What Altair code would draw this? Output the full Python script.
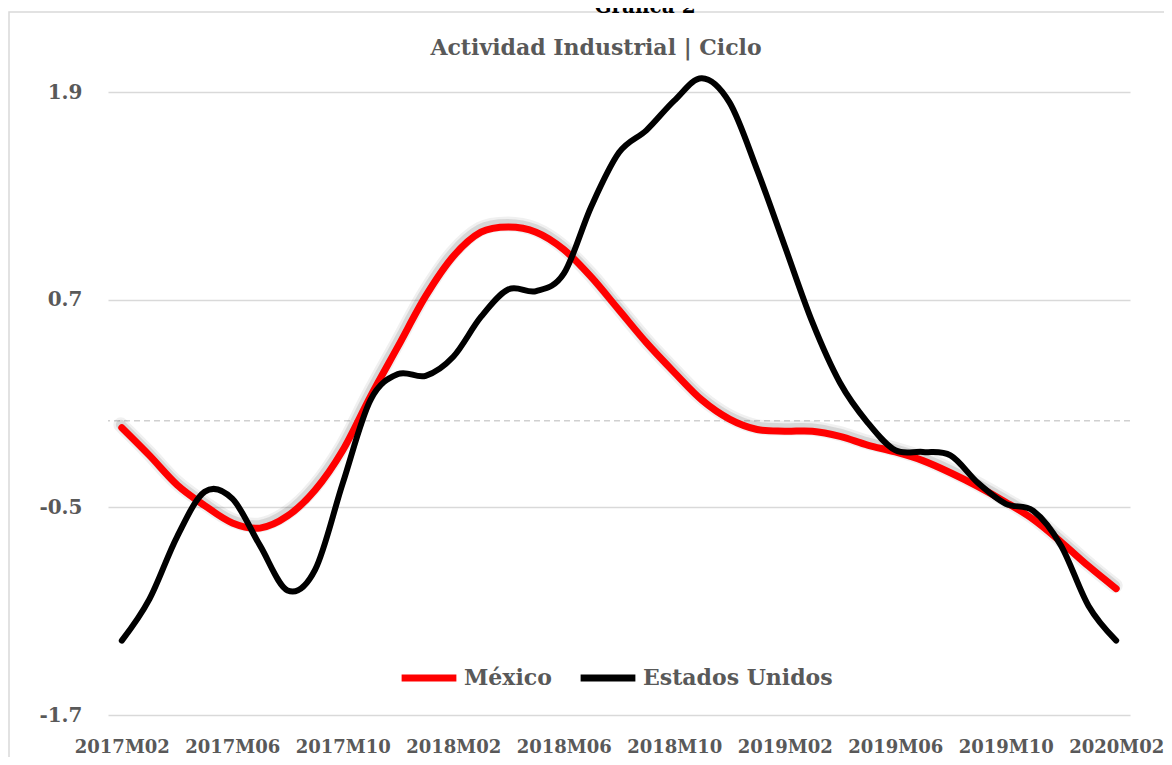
import altair as alt
import pandas as pd

# category labels (monthly, 2017M02 .. 2020M02)
months = [f"{2017 + (m - 1) // 12}M{(m - 1) % 12 + 1:02d}" for m in range(2, 39)]
tick_labels = months[::4]
y_ticks = [-1.7, -0.5, 0.7, 1.9]

series_names = ["México", "Estados Unidos"]
series_colors = ["#ff0000", "#000000"]

mexico = [-0.04, -0.20, -0.37, -0.49, -0.59, -0.62, -0.55, -0.40, -0.17, 0.14,
          0.43, 0.72, 0.95, 1.09, 1.12, 1.09, 0.99, 0.83, 0.64, 0.45,
          0.28, 0.12, 0.01, -0.05, -0.06, -0.06, -0.09, -0.14, -0.18, -0.23,
          -0.30, -0.38, -0.47, -0.57, -0.70, -0.84, -0.97]
eeuu = [-1.27, -1.03, -0.67, -0.41, -0.45, -0.72, -0.98, -0.86, -0.36, 0.12,
        0.27, 0.26, 0.37, 0.60, 0.76, 0.75, 0.85, 1.24, 1.55, 1.68,
        1.85, 1.98, 1.84, 1.45, 1.01, 0.57, 0.22, -0.01, -0.17, -0.18,
        -0.20, -0.36, -0.48, -0.52, -0.72, -1.07, -1.27]

df = pd.DataFrame({
    "mes": months * 2,
    "valor": mexico + eeuu,
    "serie": [series_names[0]] * len(months) + [series_names[1]] * len(months),
})

FONT = "DejaVu Serif"
GRAY = "#595959"
W, H = 1022, 623
INTERP = "cardinal"

x_enc = alt.X("mes:O", sort=months,
              scale=alt.Scale(type="point", padding=0.5),
              axis=alt.Axis(title=None, values=tick_labels, labelAngle=0, grid=False,
                            ticks=False, domain=False, labelFont=FONT, labelFontSize=18,
                            labelFontWeight="bold", labelColor=GRAY, labelPadding=23))
y_scale = alt.Scale(domain=[-1.7, 1.9], nice=False, zero=False)
y_enc = alt.Y("valor:Q", scale=y_scale,
              axis=alt.Axis(title=None, values=y_ticks, grid=True, gridColor="#d9d9d9",
                            gridWidth=1.5, ticks=False, domain=False,
                            labelExpr="replace(format(datum.value, '.1f'), '\u2212', '-')",
                            labelFont=FONT, labelFontSize=20, labelFontWeight="bold",
                            labelColor=GRAY, labelPadding=26))
color_enc = alt.Color("serie:N",
                      scale=alt.Scale(domain=series_names, range=series_colors),
                      legend=alt.Legend(title=None, orient="none", legendX=290, legendY=555,
                                        direction="horizontal", symbolType="stroke",
                                        symbolStrokeWidth=7, symbolSize=3000, labelLimit=400,
                                        labelFont=FONT, labelFontSize=22, labelFontWeight="bold",
                                        labelColor=GRAY, labelOffset=4, columnPadding=14))

base = alt.Chart(df)

border = alt.Chart(pd.DataFrame({"v": [0]})).mark_rect(
    fillOpacity=0, stroke="#d9d9d9", strokeWidth=1.5).encode(
    x=alt.value(-99), x2=alt.value(1100), y=alt.value(-80), y2=alt.value(720))

zero_rule = alt.Chart(pd.DataFrame({"valor": [0.0]})).mark_rule(
    color="#d0d0d0", strokeWidth=1.5, strokeDash=[6, 4]).encode(y=y_enc)

mx = base.transform_filter(alt.datum.serie == series_names[0])
us = base.transform_filter(alt.datum.serie == series_names[1])

shadow1 = mx.mark_line(interpolate=INTERP, color="#000000", opacity=0.06,
                       strokeWidth=15, strokeCap="round", yOffset=-3, xOffset=-1).encode(x=x_enc, y=y_enc)
shadow2 = mx.mark_line(interpolate=INTERP, color="#000000", opacity=0.10,
                       strokeWidth=10, strokeCap="round", yOffset=-3, xOffset=-1).encode(x=x_enc, y=y_enc)
red = mx.mark_line(interpolate=INTERP, strokeWidth=7, strokeCap="round").encode(
    x=x_enc, y=y_enc, color=color_enc)
black = us.mark_line(interpolate=INTERP, strokeWidth=6, strokeCap="round").encode(
    x=x_enc, y=y_enc, color=color_enc)

title_txt = alt.Chart(pd.DataFrame({"t": ["Actividad Industrial | Ciclo"]})).mark_text(
    font=FONT, fontSize=22, fontWeight="bold", color=GRAY, align="center", baseline="middle"
).encode(text="t:N", x=alt.value(488), y=alt.value(-44))

graf_txt = alt.Chart(pd.DataFrame({"t": ["Gráfica 2"]})).mark_text(
    font=FONT, fontSize=20, fontWeight="bold", color="#000000", align="center", baseline="alphabetic"
).encode(text="t:N", x=alt.value(537), y=alt.value(-79))

chart = alt.layer(zero_rule, border, shadow1, shadow2, red, black, title_txt, graf_txt).properties(
    width=W, height=H,
    autosize=alt.AutoSizeParams(type="none"),
    padding={"left": 100, "top": 84, "right": 34, "bottom": 42},
    background="white",
).configure_view(stroke=None)

chart.save("out.html", embed_options={"renderer": "svg", "actions": False})
